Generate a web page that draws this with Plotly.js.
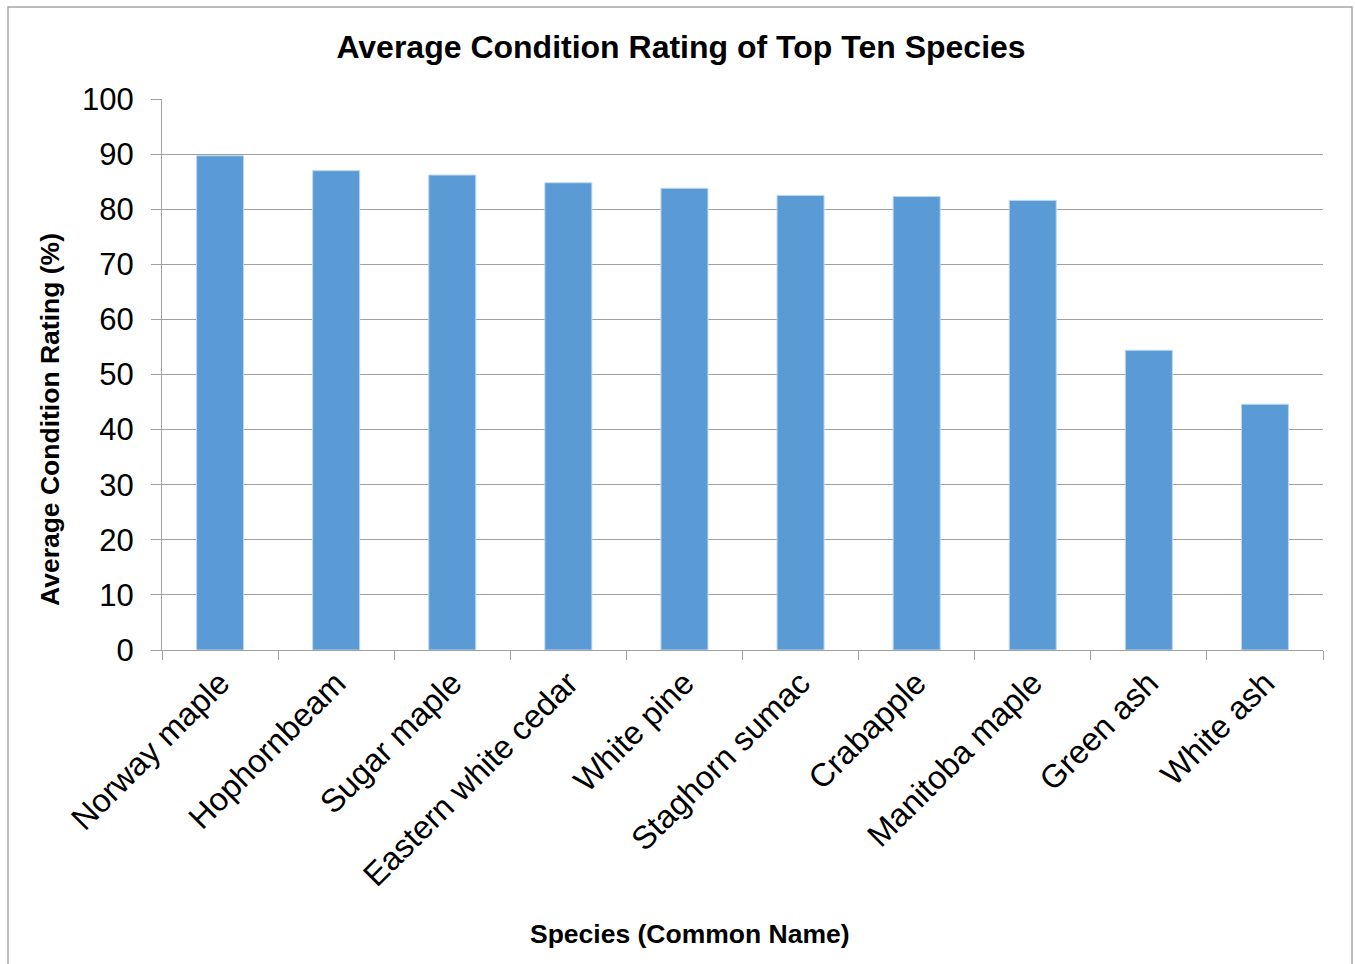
<!DOCTYPE html>
<html>
<head>
<meta charset="utf-8">
<script src="https://cdn.plot.ly/plotly-3.0.1.min.js"></script>
<style>html,body{margin:0;padding:0;background:#fff;}</style>
</head>
<body>
<div id="chart" style="width:1355px;height:964px;"></div>
<script>
const species = ["Norway maple", "Hophornbeam", "Sugar maple", "Eastern white cedar", "White pine",
  "Staghorn sumac", "Crabapple", "Manitoba maple", "Green ash", "White ash"];
const ratings = [89.7, 87.0, 86.2, 84.8, 83.8, 82.5, 82.3, 81.6, 54.4, 44.6];
const yTicks = [0, 10, 20, 30, 40, 50, 60, 70, 80, 90, 100];

const font = "Arial, 'Liberation Sans', sans-serif";

// plot area in pixels (for converting title positions)
const L = 162, R = 1323, T = 99, B = 650;
const px = v => (v - L) / (R - L);
const py = v => (B - v) / (B - T);

const trace = {
  type: "bar",
  x: species,
  y: ratings,
  marker: {color: "#5B9BD5", line: {color: "#BDD7EE", width: 1}},
  hoverinfo: "x+y"
};

const layout = {
  width: 1355, height: 964,
  paper_bgcolor: "#ffffff", plot_bgcolor: "#ffffff",
  margin: {l: L, r: 1355 - R, t: T, b: 964 - B},
  bargap: 0.595,
  showlegend: false,
  title: {
    text: "<b>Average Condition Rating of Top Ten Species</b>",
    font: {family: font, size: 32, color: "#000"},
    xref: "container", x: 681 / 1355, xanchor: "center",
    yref: "container", y: 1 - 47 / 964, yanchor: "middle"
  },
  xaxis: {
    type: "category",
    tickangle: -45,
    tickson: "boundaries",
    ticks: "outside", ticklen: 9, tickcolor: "#A0A0A0", tickwidth: 1,
    showline: true, linecolor: "#A0A0A0", linewidth: 1,
    showgrid: false,
    tickfont: {family: font, size: 32.5, color: "#000"},
    automargin: false
  },
  yaxis: {
    range: [0, 100],
    tickvals: yTicks,
    ticktext: yTicks.map(String),
    ticks: "outside", ticklen: 10, tickcolor: "#A0A0A0", tickwidth: 1,
    ticklabelstandoff: 11,
    showline: true, linecolor: "#A0A0A0", linewidth: 1,
    showgrid: true, gridcolor: "#A0A0A0", gridwidth: 1,
    zeroline: false,
    tickfont: {family: font, size: 31, color: "#000"},
    automargin: false
  },
  annotations: [
    {
      text: "<b>Species (Common Name)</b>",
      xref: "paper", yref: "paper", x: px(690), y: py(934),
      xanchor: "center", yanchor: "middle", showarrow: false,
      font: {family: font, size: 26.5, color: "#000"}
    },
    {
      text: "<b>Average Condition Rating (%)</b>",
      xref: "paper", yref: "paper", x: px(50), y: py(420),
      xanchor: "center", yanchor: "middle", showarrow: false, textangle: -90,
      font: {family: font, size: 26.5, color: "#000"}
    }
  ],
  shapes: [{
    type: "rect", xref: "paper", yref: "paper",
    x0: px(8), x1: px(1352),
    y0: py(980), y1: py(7),
    line: {color: "#A6A6A6", width: 1.5}, fillcolor: "rgba(0,0,0,0)", layer: "below"
  }]
};

Plotly.newPlot("chart", [trace], layout, {displayModeBar: false, responsive: false});
</script>
</body>
</html>
